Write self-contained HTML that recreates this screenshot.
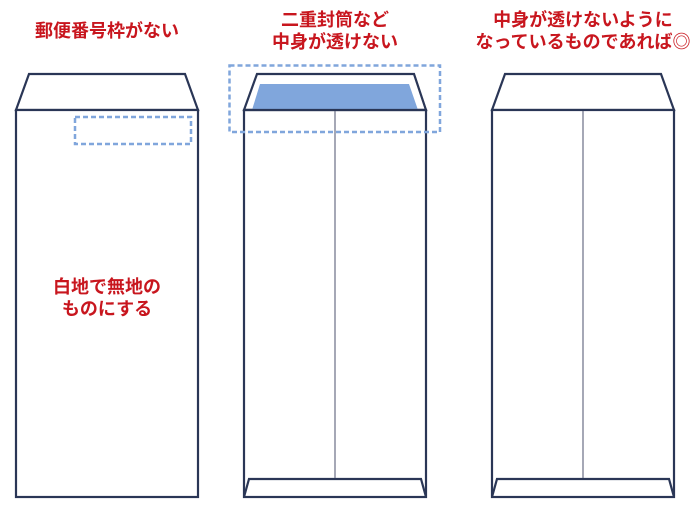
<!DOCTYPE html>
<html><head><meta charset="utf-8"><style>
html,body{margin:0;padding:0;background:#fff;width:700px;height:505px;overflow:hidden}
text{font-family:"Liberation Sans","Noto Sans CJK JP",sans-serif;font-weight:bold;font-size:18px;fill:#c8161e;text-anchor:middle}
</style></head><body>
<svg width="700" height="505" viewBox="0 0 700 505" xmlns="http://www.w3.org/2000/svg">
<g fill="none" stroke="#2a3656" stroke-width="2.2" stroke-linejoin="miter">
<polygon points="16,110 29,74 185,74 198,110" fill="#fff"/>
<rect x="16" y="110" width="182" height="387" fill="#fff"/>
<polygon points="244,110 257,74 414,74 426,110" fill="#fff"/>
<rect x="244" y="110" width="182" height="387" fill="#fff"/>
<polygon points="492,110 505,74 661,74 674,110" fill="#fff"/>
<rect x="492" y="110" width="182" height="387" fill="#fff"/>
<polyline points="244,497 249,479 421,479 426,497"/>
<polyline points="492,497 497,479 669,479 674,497"/>
</g>
<polygon points="252,110 260,84 409,84 418,110" fill="#80a6dc"/>
<g stroke="#2a3656" stroke-width="2.2" fill="none">
<line x1="244" y1="110" x2="426" y2="110"/>
</g>
<g stroke="#6a6f85" stroke-width="1.2">
<line x1="335" y1="111" x2="335" y2="478"/>
<line x1="583" y1="111" x2="583" y2="478"/>
</g>
<g fill="none" stroke="#80a6dc" stroke-width="2.5" stroke-dasharray="5,3">
<rect x="75" y="117" width="116" height="27"/>
<rect x="229.5" y="65.5" width="210.5" height="66.5"/>
</g>
<text x="107" y="37">郵便番号枠がない</text>
<text x="335" y="26">二重封筒など</text>
<text x="335" y="48">中身が透けない</text>
<text x="583" y="26">中身が透けないように</text>
<text x="583" y="48">なっているものであれば◎</text>
<text x="107" y="293">白地で無地の</text>
<text x="107" y="315">ものにする</text>
</svg>
</body></html>
